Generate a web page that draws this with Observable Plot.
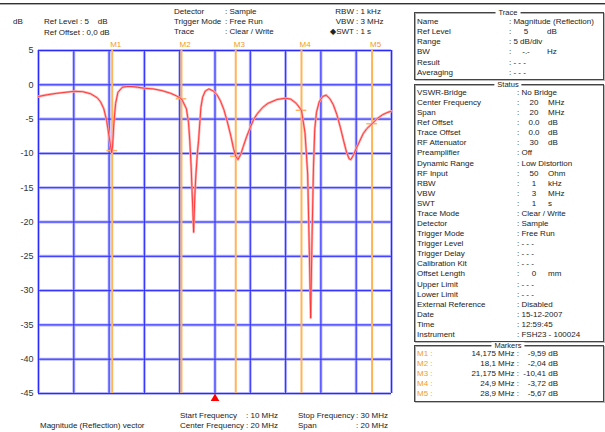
<!DOCTYPE html>
<html><head><meta charset="utf-8">
<script src="https://cdn.jsdelivr.net/npm/d3@7"></script>
<script src="https://cdn.jsdelivr.net/npm/@observablehq/plot@0.6"></script>
<style>
body{margin:0;background:#fff;}
#wrap{position:relative;width:605px;height:432px;overflow:hidden;font-family:"Liberation Sans",Arial,sans-serif;color:#222;}
#wrap svg{position:absolute;left:0;top:0;}
.t{position:absolute;white-space:pre;line-height:1;font-size:8px;transform:translateY(-50%);}
.r{transform:translate(-100%,-50%);}
.c{transform:translate(-50%,-50%);}
.box{position:absolute;border:1px solid #444;box-shadow:inset 1px 1px 0 #aaa,1px 1px 0 #bbb;}
.bt{position:absolute;background:#fff;padding:0 3px;font-size:7.5px;line-height:1;transform:translate(-50%,-50%);white-space:pre;}
</style></head><body><div id="wrap"></div>
<script>
// ---- data ----
const freqMHz = [10.0,10.5,11.0,11.5,12.0,12.5,12.95,13.33,13.52,13.7,13.86,13.98,14.08,14.15,14.2,14.27,14.37,14.5,14.75,15.0,15.3,15.6,16.0,16.5,17.0,17.5,17.8,18.1,18.25,18.38,18.5,18.57,18.65,18.7,18.79,18.86,18.92,19.0,19.07,19.2,19.3,19.45,19.65,19.9,20.1,20.3,20.5,20.7,20.9,21.05,21.175,21.3,21.45,21.6,21.8,22.0,22.2,22.4,22.7,23.0,23.5,24.0,24.3,24.6,24.9,25.1,25.25,25.35,25.42,25.5,25.58,25.65,25.75,25.9,26.1,26.3,26.5,26.7,26.9,27.1,27.3,27.45,27.6,27.7,27.85,28.0,28.2,28.4,28.6,28.9,29.2,29.5,29.8,30.0];
const magDB = [-1.7,-1.45,-1.25,-1.1,-0.95,-1.0,-1.3,-1.9,-2.5,-3.5,-5.2,-7.2,-8.9,-9.9,-8.8,-5.6,-2.7,-1.1,-0.35,-0.25,-0.25,-0.35,-0.5,-0.6,-0.85,-1.25,-1.6,-2.04,-2.8,-3.5,-5.5,-8.1,-12,-15.4,-21.5,-16,-13,-10,-8.1,-3.3,-1.8,-0.9,-0.6,-0.9,-1.4,-2.3,-3.6,-5.4,-7.5,-9.3,-10.41,-10.9,-10.2,-9.0,-7.5,-6.2,-5.0,-4.2,-3.3,-2.7,-2.15,-1.95,-2.1,-2.7,-3.72,-7.0,-13,-25,-34,-22,-12,-6.5,-4.0,-2.5,-1.7,-1.5,-2.0,-2.9,-4.3,-6.2,-8.3,-9.8,-10.8,-10.9,-10.2,-9.3,-8.2,-7.1,-6.4,-5.67,-4.9,-4.35,-4.0,-3.85];
const markerNames = ["M1","M2","M3","M4","M5"];
const markerFreq = [14.175,18.1,21.175,24.9,28.9];
const markerDB = [-9.59,-2.04,-10.41,-3.72,-5.67];
const markerFreqText = ["14,175","18,1","21,175","24,9","28,9"];
const markerDBText = ["-9,59","-2,04","-10,41","-3,72","-5,67"];
const yTicks = [5,0,-5,-10,-15,-20,-25,-30,-35,-40,-45];
const xGrid = [10,12,14,16,18,20,22,24,26,28,30];
const centerFreq = [20];

const traceRows = [["Name","Magnitude (Reflection)"],["Ref Level","5","dB"],["Range","5 dB/div"],["BW","-.-","Hz"],["Result","- - -"],["Averaging","- - -"]];
const statusRows = [["VSWR-Bridge","No Bridge"],["Center Frequency","20","MHz"],["Span","20","MHz"],["Ref Offset","0.0","dB"],["Trace Offset","0.0","dB"],["RF Attenuator","30","dB"],["Preamplifier","Off"],["Dynamic Range","Low Distortion"],["RF Input","50","Ohm"],["RBW","1","kHz"],["VBW","3","MHz"],["SWT","1","s"],["Trace Mode","Clear / Write"],["Detector","Sample"],["Trigger Mode","Free Run"],["Trigger Level","- - -"],["Trigger Delay","- - -"],["Calibration Kit","- - -"],["Offset Length","0","mm"],["Upper Limit","- - -"],["Lower Limit","- - -"],["External Reference","Disabled"],["Date","15-12-2007"],["Time","12:59:45"],["Instrument","FSH23 - 100024"]];

// ---- chart ----
const trace = freqMHz.map((f,i)=>({f, db: magDB[i]}));
const markers = markerFreq.map((f,i)=>({f, db: markerDB[i], name: markerNames[i]}));
const orange = "#ffb457";
const chart = Plot.plot({
  width: 605, height: 432,
  marginLeft: 38, marginRight: 214, marginTop: 50, marginBottom: 39,
  x: {domain: [10,30], axis: null},
  y: {domain: [-45,5], axis: null},
  style: {background: "transparent", fontFamily: "Liberation Sans, Arial, sans-serif"},
  marks: [
    Plot.ruleX(xGrid, {stroke: "#b4b4ff", strokeWidth: 3}),
    Plot.ruleY(yTicks, {stroke: "#b4b4ff", strokeWidth: 3}),
    Plot.ruleX(xGrid, {stroke: "#2a2aff", strokeWidth: 1}),
    Plot.ruleY(yTicks, {stroke: "#2a2aff", strokeWidth: 1}),
    Plot.ruleX(markers, {x: "f", stroke: orange, strokeWidth: 2}),
    Plot.ruleY(markers, {y: "db", x1: d => d.f - 0.3, x2: d => d.f + 0.3, stroke: orange, strokeWidth: 1.5}),
    Plot.line(trace, {x: "f", y: "db", stroke: "#ffa8a8", strokeWidth: 2.4}),
    Plot.line(trace, {x: "f", y: "db", stroke: "#ff3030", strokeWidth: 0.9}),
    Plot.text(yTicks, {x: 10, y: d => d, text: d => String(d), dx: -5, textAnchor: "end", fontSize: 9, fill: "#333"}),
    Plot.text(markers, {x: "f", y: 5, text: "name", dy: -6, dx: -2, textAnchor: "start", fontSize: 8, fill: "#f39a2a"}),
    Plot.dot(centerFreq, {x: d => d, y: -45, symbol: "triangle", fill: "#ff0000", stroke: "none", r: 3.2, dy: 5})
  ]
});
const wrap = document.getElementById("wrap");
wrap.appendChild(chart);

function txt(x, y, s, cls = "", extra = "") {
  const d = document.createElement("div");
  d.className = "t " + cls;
  d.style.left = x + "px"; d.style.top = y + "px";
  if (extra) d.style.cssText += extra;
  d.textContent = s;
  wrap.appendChild(d);
  return d;
}
function box(x, y, w, h, title) {
  const b = document.createElement("div");
  b.className = "box";
  b.style.left = x + "px"; b.style.top = y + "px";
  b.style.width = w + "px"; b.style.height = h + "px";
  wrap.appendChild(b);
  const t = document.createElement("div");
  t.className = "bt"; t.textContent = title;
  t.style.left = (x + w / 2) + "px"; t.style.top = (y + 0.5) + "px";
  wrap.appendChild(t);
}

// top rule
const topLine = document.createElement("div");
topLine.style.cssText = "position:absolute;left:0;top:3px;width:605px;height:1px;background:#333;box-shadow:0 1px 0 #aaa;";
wrap.appendChild(topLine);

// header
txt(13, 22, "dB");
txt(44, 22, "Ref Level : 5    dB");
txt(44, 33, "Ref Offset : 0,0 dB");
txt(174, 12, "Detector"); txt(225, 12, ": Sample");
txt(174, 22, "Trigger Mode"); txt(225, 22, ": Free Run");
txt(174, 32, "Trace"); txt(225, 32, ": Clear / Write");
txt(354, 12, "RBW", "r"); txt(356, 12, ": 1 kHz");
txt(354, 22, "VBW", "r"); txt(356, 22, ": 3 MHz");
txt(354, 32, "\u25C6SWT", "r"); txt(356, 32, ": 1 s");

// bottom
txt(40, 426, "Magnitude (Reflection) vector");
txt(180, 416, "Start Frequency"); txt(246, 416, ": 10 MHz");
txt(180, 426, "Center Frequency"); txt(246, 426, ": 20 MHz");
txt(298, 416, "Stop Frequency"); txt(356, 416, ": 30 MHz");
txt(298, 426, "Span"); txt(356, 426, ": 20 MHz");

// right panel boxes
box(414, 12, 188, 66, "Trace");
box(414, 84, 188, 256, "Status");
box(414, 345, 188, 55, "Markers");

traceRows.forEach((r, i) => {
  const y = 21.5 + i * 10.3;
  txt(417, y, r[0]);
  if (r.length === 3) { txt(509, y, ":"); txt(526, y, r[1], "c"); txt(547, y, r[2]); }
  else txt(509, y, ": " + r[1]);
});
statusRows.forEach((r, i) => {
  const y = 93 + i * 10.08;
  txt(417, y, r[0]);
  if (r.length === 3) { txt(517, y, ":"); txt(534, y, r[1], "c"); txt(548, y, r[2]); }
  else txt(517, y, ": " + r[1]);
});
markerNames.forEach((m, i) => {
  const y = 353.5 + i * 10;
  txt(417, y, m + " :", "", "color:#f39a2a;");
  txt(519, y, markerFreqText[i] + " MHz :", "r");
  txt(558, y, markerDBText[i] + " dB", "r");
});
</script></body></html>
